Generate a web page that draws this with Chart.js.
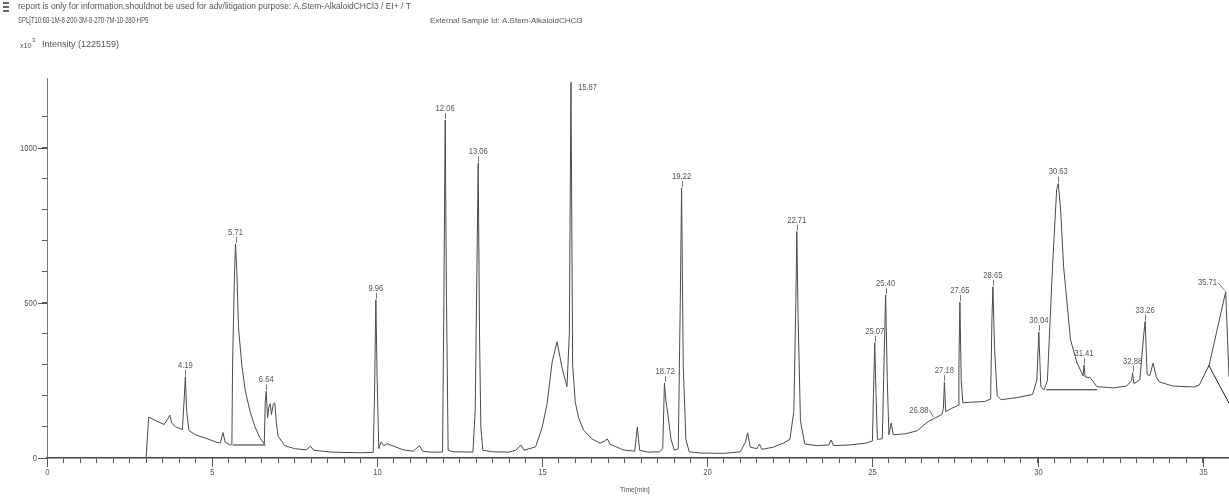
<!DOCTYPE html>
<html><head><meta charset="utf-8">
<script src="https://cdn.jsdelivr.net/npm/chart.js@4"></script>
<style>html,body{margin:0;padding:0;background:#fff}#wrap{width:1229px;height:497px;position:relative}</style>
</head><body><div id="wrap"><canvas id="c" width="1229" height="497"></canvas></div>
<script>
// ---- data ----
const times = [3.00,3.08,3.30,3.55,3.65,3.72,3.78,3.90,4.10,4.15,4.19,4.23,4.30,4.50,4.80,5.10,5.25,5.33,5.40,5.55,5.60,5.62,5.68,5.71,5.75,5.80,5.90,6.00,6.15,6.30,6.45,6.58,6.61,6.64,6.68,6.72,6.76,6.80,6.85,6.90,6.95,7.00,7.20,7.50,7.85,7.98,8.08,8.60,9.00,9.50,9.88,9.92,9.96,10.00,10.05,10.12,10.20,10.30,10.50,10.80,11.10,11.28,11.38,11.60,11.98,12.02,12.06,12.10,12.15,12.30,12.90,12.97,13.02,13.06,13.10,13.14,13.20,13.50,14.00,14.20,14.35,14.45,14.80,15.00,15.15,15.30,15.45,15.60,15.75,15.82,15.87,15.92,16.00,16.10,16.25,16.50,16.75,16.90,16.97,17.05,17.45,17.80,17.88,17.95,18.20,18.55,18.65,18.70,18.75,18.80,18.90,19.00,19.12,19.18,19.22,19.27,19.35,19.45,19.80,20.50,21.00,21.15,21.22,21.30,21.50,21.58,21.65,22.00,22.30,22.50,22.62,22.68,22.71,22.75,22.82,22.95,23.30,23.68,23.75,23.82,24.30,24.80,25.00,25.03,25.07,25.11,25.15,25.30,25.35,25.40,25.45,25.50,25.57,25.63,26.00,26.36,26.60,26.70,26.88,27.10,27.15,27.18,27.22,27.40,27.60,27.62,27.65,27.69,27.74,28.00,28.40,28.58,28.62,28.65,28.70,28.78,28.90,29.40,29.85,29.98,30.04,30.10,30.20,30.30,30.45,30.58,30.63,30.70,30.79,31.00,31.20,31.38,31.41,31.44,31.60,31.80,32.30,32.70,32.85,32.88,32.92,33.10,33.22,33.26,33.32,33.40,33.50,33.60,33.70,34.10,34.73,34.90,35.20,35.70,35.80];
const intensity = [0,132,120,108,125,138,112,100,92,180,262,150,88,75,64,52,48,82,50,42,45,300,600,690,600,420,300,220,150,100,65,45,180,215,130,165,175,140,172,178,110,70,40,30,26,38,25,19,18,17,18,200,510,250,30,52,40,46,38,26,22,40,22,19,19,500,1090,500,25,20,19,155,600,950,400,100,25,20,19,25,42,25,36,100,177,310,375,290,230,400,1210,300,180,130,90,62,48,55,62,45,26,22,100,25,19,20,30,242,180,145,60,25,30,500,870,300,60,20,16,15,20,50,81,35,30,45,28,35,48,60,150,500,730,450,120,45,40,42,58,40,42,48,55,200,371,200,60,62,300,526,250,75,113,75,78,88,110,118,128,140,160,245,150,160,170,300,503,250,178,180,182,190,450,552,350,200,188,195,205,250,406,230,220,250,607,865,885,800,617,381,306,265,300,262,258,230,226,232,250,275,240,252,400,440,270,265,306,260,245,232,229,235,300,536,261];
// integration baselines (segments separated by null)
const baseTimes = [5.62,6.62,6.70,30.27,31.80,31.90,35.18,35.80];
const baseValues = [42,42,null,220,220,null,300,177];
// peak retention-time labels
const peakTimes = [4.19,5.71,6.64,9.96,12.06,13.06,15.87,18.72,19.22,22.71,25.07,25.40,26.88,27.18,27.65,28.65,30.04,30.63,31.41,32.88,33.26,35.71];
const peakLabels = ['4.19','5.71','6.64','9.96','12.06','13.06','15.87','18.72','19.22','22.71','25.07','25.40','26.88','27.18','27.65','28.65','30.04','30.63','31.41','32.88','33.26','35.71'];
// axis
const xMin = 0, xMax = 35.8, yMin = 0, yMax = 1225;
const xLabelEvery = 5, yLabelEvery = 500;
const headerLine1 = 'report is only for information,shouldnot be used for adv/litigation purpose: A.Stem-AlkaloidCHCl3 / EI+ / T';
const headerLine2 = 'SPL[T10:60-1M-8-200-3M-8-270-7M-10-280-HP5';
const headerExt = 'External Sample Id: A.Stem-AlkaloidCHCl3';
const yUnit = 'x10';
const yUnitExp = '3';
const yTitle = 'Intensity (1225159)';
const xTitle = 'Time[min]';

// ---- styling / layout ----
const FONT = "'Liberation Sans','Arial',sans-serif";
const TXT = '#555';
const labelPlacement = { '15.87': ['left', 7, 5], '26.88': ['right', -6, -8], '35.71': ['right', -9, -9] };

const trace = times.map((t, i) => ({ x: t, y: intensity[i] }));
const baseSeg = baseTimes.map((t, i) => ({ x: t, y: baseValues[i] }));

function apexOf(t) {
  let best = -1;
  for (let i = 0; i < times.length; i++) if (Math.abs(times[i] - t) <= 0.06 && intensity[i] > best) best = intensity[i];
  return best;
}
// condensed text helper
function txt(ctx, s, x, y, size, k, align, base) {
  ctx.save();
  ctx.font = size + 'px ' + FONT;
  ctx.textAlign = align || 'left';
  ctx.textBaseline = base || 'middle';
  ctx.translate(x, y); ctx.scale(k, 1);
  ctx.fillText(s, 0, 0);
  ctx.restore();
}

const overlay = {
  id: 'overlay',
  afterDraw(chart) {
    const { ctx, scales: { x, y }, chartArea: a } = chart;
    ctx.save();
    ctx.strokeStyle = '#555'; ctx.lineWidth = 1; ctx.fillStyle = TXT;
    // longer major ticks + tick labels
    for (let v = xMin; v <= xMax; v += xLabelEvery) {
      const px = Math.round(x.getPixelForValue(v)) + 0.5;
      ctx.beginPath(); ctx.moveTo(px, a.bottom); ctx.lineTo(px, a.bottom + 9); ctx.stroke();
      txt(ctx, String(v), px, a.bottom + 15, 9, 0.85, 'center');
    }
    for (let v = yMin; v <= yMax; v += yLabelEvery) {
      const py = Math.round(y.getPixelForValue(v)) + 0.5;
      ctx.beginPath(); ctx.moveTo(a.left - 9, py); ctx.lineTo(a.left, py); ctx.stroke();
      txt(ctx, String(v), a.left - 10, py, 9, 0.85, 'right');
    }
    // peak labels
    ctx.strokeStyle = '#777';
    peakTimes.forEach((t, i) => {
      const lab = peakLabels[i];
      const px = x.getPixelForValue(t);
      const py = y.getPixelForValue(apexOf(t));
      const pl = labelPlacement[lab];
      if (pl) {
        const tx = px + pl[1], ty = py + pl[2];
        txt(ctx, lab, tx, ty, 9, 0.85, pl[0]);
        ctx.beginPath();
        ctx.moveTo(pl[0] === 'left' ? tx - 6 : tx + 1, ty - (pl[0] === 'left' ? 5 : 0));
        ctx.lineTo(px + (pl[0] === 'left' ? 0 : -1), py - 1);
        ctx.stroke();
      } else {
        txt(ctx, lab, px, py - 9, 9, 0.85, 'center', 'alphabetic');
        ctx.beginPath(); ctx.moveTo(Math.round(px) + 0.5, py - 7); ctx.lineTo(Math.round(px) + 0.5, py - 1); ctx.stroke();
      }
    });
    // header texts
    txt(ctx, headerLine1, 18, 7, 9, 0.94);
    txt(ctx, headerLine2, 18, 21, 9, 0.66);
    txt(ctx, headerExt, 430, 21, 8, 1.0);
    txt(ctx, yUnit, 20, 46, 8, 0.9);
    txt(ctx, yUnitExp, 32, 40, 6, 1.0);
    txt(ctx, yTitle, 42, 45, 9, 1.0);
    txt(ctx, xTitle, 620, 490, 8, 0.85);
    // small header icon
    ctx.fillStyle = '#666';
    ctx.fillRect(3, 2, 6, 2); ctx.fillRect(3, 6, 6, 2); ctx.fillRect(3, 10, 6, 2);
    ctx.restore();
  }
};

new Chart(document.getElementById('c'), {
  type: 'line',
  data: {
    datasets: [
      { label: 'TIC', data: trace, borderColor: '#4a4a4a', borderWidth: 1, pointRadius: 0, tension: 0, fill: false },
      { label: 'baseline', data: baseSeg, borderColor: '#222', borderWidth: 1, pointRadius: 0, tension: 0, fill: false, spanGaps: false }
    ]
  },
  options: {
    responsive: false, animation: false, devicePixelRatio: 1,
    layout: { padding: { top: 78, left: 0, right: 0, bottom: 0 } },
    plugins: { legend: { display: false }, tooltip: { enabled: false }, title: { display: false } },
    scales: {
      x: {
        type: 'linear', min: xMin, max: xMax,
        afterBuildTicks: s => { s.ticks = s.ticks.filter(t => Math.abs(t.value * 2 - Math.round(t.value * 2)) < 1e-6); },
        afterFit: s => { s.height = 39; },
        ticks: { stepSize: 0.5, autoSkip: false, maxRotation: 0, display: false },
        grid: { drawOnChartArea: false, drawTicks: true, tickLength: 5, color: '#555' },
        border: { color: '#444', width: 1.5 }
      },
      y: {
        type: 'linear', min: yMin, max: yMax,
        afterBuildTicks: s => { s.ticks = s.ticks.filter(t => Math.abs(t.value % 100) < 1e-6); },
        afterFit: s => { s.width = 47; },
        ticks: { stepSize: 100, autoSkip: false, display: false },
        grid: { drawOnChartArea: false, drawTicks: true, tickLength: 5, color: '#555' },
        border: { color: '#777', width: 1 }
      }
    }
  },
  plugins: [overlay]
});
</script>
</body></html>
